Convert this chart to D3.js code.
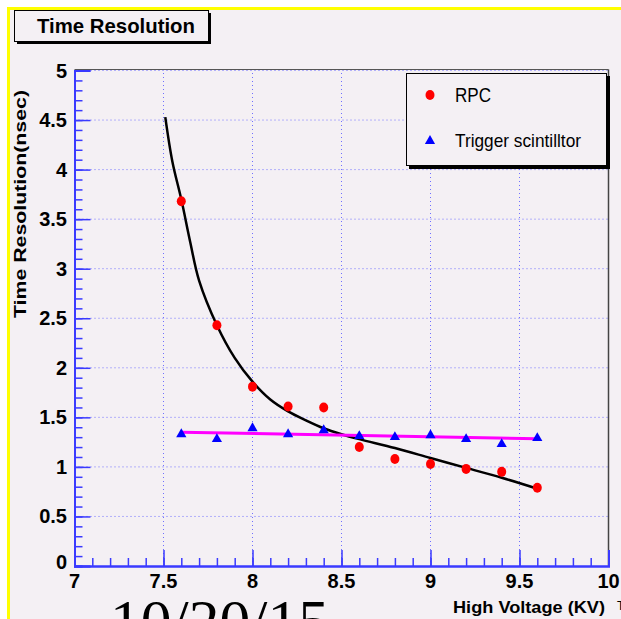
<!DOCTYPE html>
<html>
<head>
<meta charset="utf-8">
<script src="https://cdn.jsdelivr.net/npm/d3@7"></script>
<style>
  body { margin: 0; background: #fff; }
  text { font-family: "Liberation Sans", Arial, sans-serif; }
</style>
</head>
<body>
<div id="chart"></div>
<script>
// Data
const voltage = [7.6, 7.8, 8.0, 8.2, 8.4, 8.6, 8.8, 9.0, 9.2, 9.4, 9.6];
const rpcRes = [3.68, 2.43, 1.81, 1.61, 1.60, 1.20, 1.08, 1.03, 0.98, 0.95, 0.79];
const trigRes = [1.33, 1.28, 1.39, 1.33, 1.37, 1.31, 1.30, 1.32, 1.28, 1.23, 1.29];

// fitted curves
const rpcFitX = [7.51, 7.55, 7.60, 7.65, 7.70, 7.80, 7.90, 8.00, 8.10, 8.20, 8.30, 8.40, 8.50, 8.60, 8.80, 9.00, 9.20, 9.40, 9.60];
const rpcFitY = [4.53, 4.08, 3.70, 3.27, 2.88, 2.43, 2.10, 1.86, 1.68, 1.56, 1.47, 1.39, 1.33, 1.28, 1.19, 1.09, 0.99, 0.89, 0.78];
const trigFitX = [7.6, 9.6];
const trigFitY = [1.35, 1.285];

const xTicks = [7, 7.5, 8, 8.5, 9, 9.5, 10];
const yTicks = [0, 0.5, 1, 1.5, 2, 2.5, 3, 3.5, 4, 4.5, 5];

const W = 621, H = 619;
const svg = d3.select("#chart").append("svg")
  .attr("width", W)
  .attr("height", H);

// canvas + yellow border
svg.append("rect").attr("x", 8).attr("y", 8).attr("width", W - 8).attr("height", H - 8).attr("fill", "#f4f0f4");
svg.append("line").attr("x1", 8.5).attr("x2", 8.5).attr("y1", 7).attr("y2", H).attr("stroke", "#ffff00").attr("stroke-width", 3);
svg.append("line").attr("x1", 7).attr("x2", W).attr("y1", 8.5).attr("y2", 8.5).attr("stroke", "#ffff00").attr("stroke-width", 3);

const x = d3.scaleLinear().domain([7, 10]).range([74.5, 608.5]);
const y = d3.scaleLinear().domain([0, 5]).range([566, 70.5]);

// grid
const grid = svg.append("g");
grid.selectAll(".gx").data(xTicks.slice(1, -1)).enter().append("line")
  .attr("x1", d => x(d)).attr("x2", d => x(d))
  .attr("y1", y(0)).attr("y2", y(5))
  .attr("stroke", "#7070ff").attr("stroke-dasharray", "1,3");
grid.selectAll(".gy").data(yTicks.slice(1)).enter().append("line")
  .attr("x1", x(7)).attr("x2", x(10))
  .attr("y1", d => y(d)).attr("y2", d => y(d))
  .attr("stroke", "#7070ff").attr("stroke-dasharray", "1,3");

// frame top / right
svg.append("line").attr("x1", x(7)).attr("x2", x(10)).attr("y1", y(5) - 1).attr("y2", y(5) - 1)
  .attr("stroke", "#555").attr("stroke-width", 1);
svg.append("line").attr("x1", x(10)).attr("x2", x(10)).attr("y1", y(5) - 1).attr("y2", y(0))
  .attr("stroke", "#444").attr("stroke-width", 1.5);

// axes (ROOT style: ticks inward)
const minorX = d3.range(70, 101).map(d => d / 10);
const minorY = d3.range(0, 51).map(d => d / 10);

const xAxis = svg.append("g").attr("transform", `translate(0,${y(0)})`)
  .call(d3.axisTop(x).tickValues(minorX).tickSize(8).tickFormat(""));
xAxis.append("g").call(d3.axisTop(x).tickValues(xTicks).tickSize(16).tickFormat(""));
xAxis.selectAll("path").attr("stroke", "#3a3aff").attr("stroke-width", 2);
xAxis.selectAll("line").attr("stroke", "#3a3aff").attr("stroke-width", 1.5);

const yAxis = svg.append("g").attr("transform", `translate(${x(7)},0)`)
  .call(d3.axisRight(y).tickValues(minorY).tickSize(8).tickFormat(""));
yAxis.append("g").call(d3.axisRight(y).tickValues(yTicks).tickSize(16).tickFormat(""));
yAxis.selectAll("path").attr("stroke", "#3a3aff").attr("stroke-width", 2);
yAxis.selectAll("line").attr("stroke", "#3a3aff").attr("stroke-width", 1.5);

// tick labels
svg.selectAll(".xl").data(xTicks).enter().append("text")
  .attr("x", d => x(d)).attr("y", 588)
  .attr("text-anchor", "middle")
  .attr("font-size", 20).attr("font-weight", "bold")
  .text(d => d);
svg.selectAll(".yl").data(yTicks).enter().append("text")
  .attr("x", 67).attr("y", d => d === 0 ? y(d) + 3 : y(d) + 7)
  .attr("text-anchor", "end")
  .attr("font-size", 20).attr("font-weight", "bold")
  .text(d => d);

// axis titles
svg.append("text")
  .attr("x", 605).attr("y", 613)
  .attr("text-anchor", "end")
  .attr("font-size", 17).attr("font-weight", "bold")
  .attr("textLength", 152).attr("lengthAdjust", "spacingAndGlyphs")
  .text("High Voltage (KV)");
svg.append("text")
  .attr("x", 617).attr("y", 610)
  .attr("font-size", 12)
  .text("T");
svg.append("text")
  .attr("transform", "translate(26,204) rotate(-90)")
  .attr("text-anchor", "middle")
  .attr("font-size", 17).attr("font-weight", "bold")
  .attr("textLength", 228).attr("lengthAdjust", "spacingAndGlyphs")
  .text("Time Resolution(nsec)");

// fits
const line = d3.line().x(d => x(d[0])).y(d => y(d[1]));
svg.append("path")
  .attr("d", line.curve(d3.curveCatmullRom)(rpcFitX.map((v, i) => [v, rpcFitY[i]])))
  .attr("fill", "none").attr("stroke", "#000").attr("stroke-width", 2.5);
svg.append("path")
  .attr("d", d3.line().x(d => x(d[0])).y(d => y(d[1]))(trigFitX.map((v, i) => [v, trigFitY[i]])))
  .attr("fill", "none").attr("stroke", "#ff00ff").attr("stroke-width", 3);

// markers
const tri = d3.symbol().type(d3.symbolTriangle).size(45);
svg.selectAll(".tri").data(voltage).enter().append("path")
  .attr("d", tri)
  .attr("transform", (d, i) => `translate(${x(d)},${y(trigRes[i])})`)
  .attr("fill", "#0000ff");
svg.selectAll(".dot").data(voltage).enter().append("ellipse")
  .attr("cx", d => x(d)).attr("cy", (d, i) => y(rpcRes[i]))
  .attr("rx", 4.5).attr("ry", 5)
  .attr("fill", "#ff0000");

// legend
const lg = svg.append("g");
lg.append("rect").attr("x", 409).attr("y", 76).attr("width", 201).attr("height", 93).attr("fill", "#000");
lg.append("rect").attr("x", 406.5).attr("y", 73.5).attr("width", 200).attr("height", 92)
  .attr("fill", "#f4f0f4").attr("stroke", "#000").attr("stroke-width", 1);
lg.append("ellipse").attr("cx", 430).attr("cy", 95).attr("rx", 4.5).attr("ry", 5).attr("fill", "#ff0000");
lg.append("path").attr("d", tri).attr("transform", "translate(430,141)").attr("fill", "#0000ff");
lg.append("text").attr("x", 455).attr("y", 102).attr("font-size", 20)
  .attr("textLength", 36).attr("lengthAdjust", "spacingAndGlyphs").text("RPC");
lg.append("text").attr("x", 455).attr("y", 147).attr("font-size", 19)
  .attr("textLength", 126).attr("lengthAdjust", "spacingAndGlyphs").text("Trigger scintilltor");

// title box
svg.append("rect").attr("x", 17).attr("y", 13).attr("width", 194).attr("height", 31).attr("fill", "#000");
svg.append("rect").attr("x", 14.5).attr("y", 10.5).attr("width", 194).attr("height", 31)
  .attr("fill", "#f4f0f4").attr("stroke", "#000");
svg.append("text").attr("x", 37).attr("y", 33).attr("font-size", 21).attr("font-weight", "bold")
  .attr("textLength", 158).attr("lengthAdjust", "spacingAndGlyphs").text("Time Resolution");

// date stamp
svg.append("text").attr("x", 110).attr("y", 641)
  .attr("font-family", "'Liberation Serif', 'Times New Roman', serif")
  .style("font-family", "'Liberation Serif', 'Times New Roman', serif")
  .attr("font-size", 60)
  .attr("textLength", 219).attr("lengthAdjust", "spacingAndGlyphs")
  .text("10/20/15");
</script>
</body>
</html>
